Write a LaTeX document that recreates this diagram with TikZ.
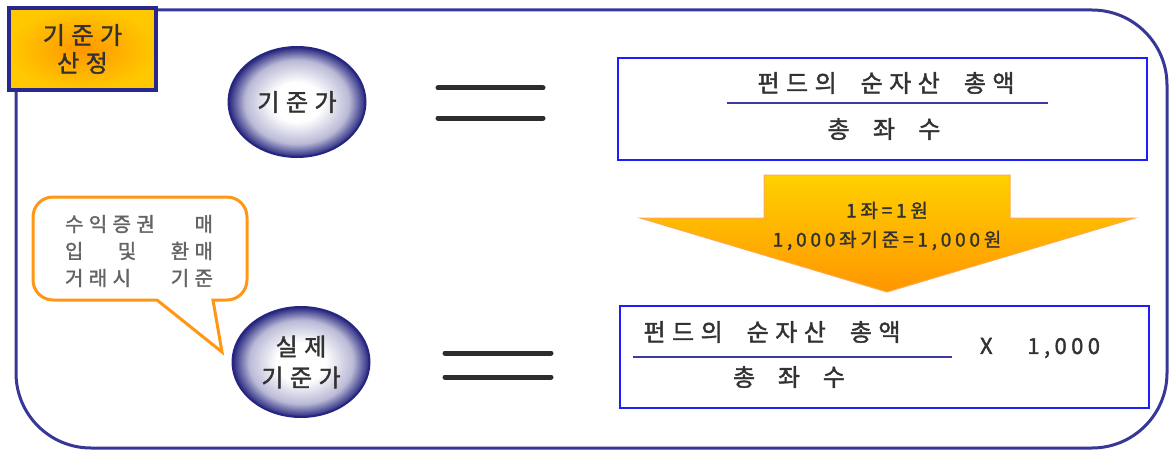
\documentclass[tikz,border=0pt]{standalone}
\usepackage{fontspec}
\newfontfamily\krfont[LetterSpace=27, FakeBold=1.6]{Noto Sans CJK KR}
\newfontfamily\krnarrow[LetterSpace=20, FakeBold=1.6]{Noto Sans CJK KR}
\usetikzlibrary{shapes.geometric}

\definecolor{framenavy}{RGB}{55,55,150}
\definecolor{labelnavy}{RGB}{40,40,140}
\definecolor{ballnavy}{RGB}{38,38,128}
\definecolor{boxblue}{RGB}{30,30,250}
\definecolor{fracnavy}{RGB}{60,60,160}
\definecolor{eqgray}{RGB}{45,45,45}
\definecolor{textgray}{RGB}{50,50,50}
\definecolor{bubblegray}{RGB}{100,100,100}
\definecolor{bubbleorange}{RGB}{255,150,20}
\definecolor{labelorange}{RGB}{255,150,0}
\definecolor{labelyellow}{RGB}{255,200,0}
\definecolor{arrowyellow}{RGB}{255,208,0}
\definecolor{arroworange}{RGB}{255,150,0}
\definecolor{arrowedge}{RGB}{255,170,80}
\colorlet{ballmid}{ballnavy!32}

\pgfdeclareradialshading{ballshade}{\pgfpoint{0bp}{0bp}}{color(0bp)=(white); color(9bp)=(white); color(19bp)=(ballmid); color(25bp)=(ballnavy); color(50bp)=(ballnavy)}
\pgfdeclareradialshading{labelshade}{\pgfpoint{0bp}{0bp}}{color(0bp)=(labelorange); color(25bp)=(labelyellow); color(50bp)=(labelyellow)}

\begin{document}
\begin{tikzpicture}[x=1pt, y=-1pt]
    \useasboundingbox (0,0) rectangle (1173,452);

    \tikzstyle{ball} = [ellipse, draw = ballnavy, line width = 2pt, shading = ballshade, minimum width = 137pt, minimum height = 110pt, inner sep = 0pt, align = center, text = textgray, font = \krfont\fontsize{24}{31}\selectfont]
    \tikzstyle{fbox} = [rectangle, draw = boxblue, line width = 2.5pt, fill = white, minimum width = 529pt, minimum height = 102pt]
    \tikzstyle{ftext} = [inner sep = 0pt, text = textgray, font = \krfont\fontsize{24}{26}\selectfont]
    \tikzstyle{bar} = [line width = 5pt, draw = eqgray, line cap = round]
    \tikzstyle{fracline} = [line width = 2.5pt, draw = fracnavy]

    % frame
    \draw[line width = 3pt, framenavy] (16,10) [rounded corners = 75pt] -- (1167,10) -- (1167,448) -- (16,448) -- (16,40);

    \node[rectangle, draw = labelnavy, line width = 3.5pt, shading = labelshade, minimum width = 147pt, minimum height = 82pt, align = center, text = textgray, font = \krfont\fontsize{24}{28}\selectfont] (label) at (82.5,49) {기준가\\산정};

    \node[ball] (ball) at (297,102) {기준가};
    \node[ball] (realball) at (301,362) {실제\\기준가};

    % equal signs
    \coordinate (eqa) at (438,88);  \coordinate (eqb) at (543,88);
    \coordinate (eqc) at (438,118); \coordinate (eqd) at (543,118);
    \draw[bar] (eqa) -- (eqb);
    \draw[bar] (eqc) -- (eqd);
    \coordinate (eqe) at (445,353); \coordinate (eqf) at (551,353);
    \coordinate (eqg) at (445,377); \coordinate (eqh) at (551,377);
    \draw[bar] (eqe) -- (eqf);
    \draw[bar] (eqg) -- (eqh);

    % upper formula
    \node[fbox] (topbox) at (882.5,109) {};
    \node[ftext] (topnum) at (886,83) {\makebox[257pt][s]{펀드의 순자산 총액}};
    \node[ftext] (topden) at (884,129) {\makebox[113pt][s]{총 좌 수}};
    \coordinate (tfa) at (727,103);
    \coordinate (tfb) at (1048,103);
    \draw[fracline] (tfa) -- (tfb);

    % block arrow
    \path[draw = arrowedge, line width = 1pt, top color = arrowyellow, bottom color = arroworange] (764,175) -- (1010,175) -- (1010,218) -- (1135,218) -- (887,292) -- (640,218) -- (764,218) -- cycle;
    \node[align = center, inner sep = 0pt, text = textgray, font = \krnarrow\fontsize{19}{29}\selectfont] (rate) at (887,226) {1좌=1원\\1,000좌기준=1,000원};

    % lower formula
    \node[fbox] (botbox) at (884.5,357) {};
    \node[ftext] (botnum) at (772,332) {\makebox[257pt][s]{펀드의 순자산 총액}};
    \node[ftext] (botden) at (789,377) {\makebox[112pt][s]{총 좌 수}};
    \coordinate (bfa) at (633,357);
    \coordinate (bfb) at (952,357);
    \draw[fracline] (bfa) -- (bfb);
    \node[inner sep = 0pt, text = textgray, font = \krnarrow\fontsize{22}{26}\selectfont] (times) at (1040,348) {\makebox[120pt][s]{X 1,000}};

    % speech bubble
    \draw[line width = 3pt, draw = bubbleorange, fill = white] (213,300) [rounded corners = 20pt] -- (247,300) -- (247,197) -- (33,197) -- (33,300) [sharp corners] -- (157,300) -- (222,352) -- cycle;
    \node[align = center, inner sep = 0pt, text = bubblegray, font = \krfont\fontsize{20}{27}\selectfont] (bubble) at (139,251) {\makebox[148pt][s]{수익증권 매}\\\makebox[148pt][s]{입 및 환매}\\\makebox[148pt][s]{거래시 기준}};
\end{tikzpicture}
\end{document}
